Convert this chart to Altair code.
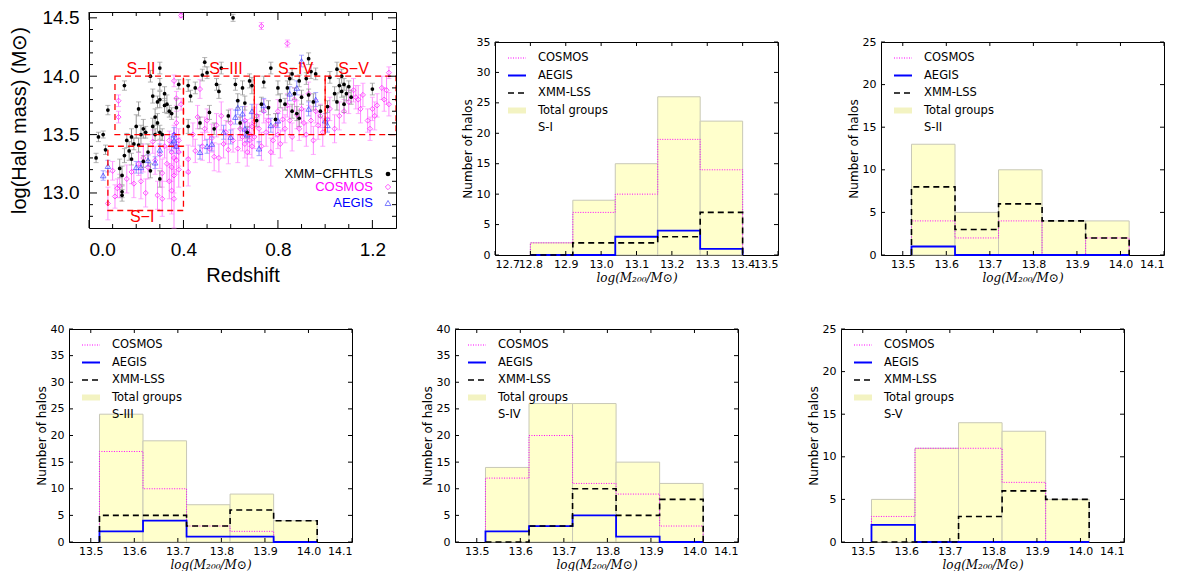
import altair as alt
import pandas as pd

# ---------------- scatter data: (redshift, log halo mass, error) ----------------
xmm_cfhtls = [
    (0.03, 13.30, 0.04), (0.04, 13.48, 0.04), (0.06, 13.50, 0.03), (0.07, 13.37, 0.04), (0.08, 13.71, 0.04),
    (0.13, 13.21, 0.08), (0.14, 12.98, 0.05), (0.14, 13.15, 0.08), (0.14, 13.01, 0.05), (0.15, 13.32, 0.06),
    (0.15, 13.92, 0.04), (0.16, 13.45, 0.06), (0.17, 13.36, 0.08), (0.18, 13.48, 0.07), (0.18, 13.29, 0.05),
    (0.19, 13.42, 0.05), (0.20, 13.57, 0.10), (0.21, 13.72, 0.06), (0.21, 13.41, 0.06), (0.22, 13.50, 0.08),
    (0.23, 13.27, 0.05), (0.23, 13.55, 0.08), (0.24, 13.52, 0.05), (0.25, 13.35, 0.07), (0.26, 13.19, 0.06),
    (0.27, 13.57, 0.07), (0.27, 13.83, 0.06), (0.26, 14.00, 0.05), (0.28, 13.65, 0.07), (0.28, 13.50, 0.05),
    (0.29, 13.60, 0.08), (0.29, 13.78, 0.05), (0.30, 13.52, 0.06), (0.30, 13.80, 0.07), (0.30, 14.07, 0.05),
    (0.30, 13.93, 0.05), (0.30, 13.12, 0.07), (0.31, 13.50, 0.05), (0.32, 13.85, 0.06), (0.32, 13.75, 0.06),
    (0.33, 13.76, 0.08), (0.34, 13.70, 0.05), (0.35, 13.68, 0.05), (0.37, 13.73, 0.08), (0.38, 13.93, 0.04),
    (0.42, 13.92, 0.05), (0.42, 13.57, 0.06), (0.43, 13.83, 0.05), (0.45, 13.90, 0.05), (0.47, 13.60, 0.05),
    (0.48, 14.01, 0.05), (0.49, 14.12, 0.04), (0.50, 14.03, 0.05), (0.51, 13.69, 0.06), (0.53, 13.55, 0.05),
    (0.54, 13.93, 0.05), (0.55, 13.87, 0.06), (0.56, 14.07, 0.05), (0.59, 13.66, 0.05), (0.61, 14.50, 0.03),
    (0.62, 13.93, 0.05), (0.63, 13.79, 0.06), (0.64, 13.60, 0.05), (0.65, 13.90, 0.06), (0.66, 13.77, 0.06),
    (0.67, 13.52, 0.05), (0.68, 13.96, 0.06), (0.69, 13.92, 0.07),
    (0.71, 13.62, 0.05), (0.73, 13.76, 0.06), (0.74, 13.95, 0.05), (0.76, 13.73, 0.06), (0.77, 14.07, 0.05),
    (0.79, 13.63, 0.05), (0.80, 13.90, 0.06), (0.81, 13.79, 0.06), (0.83, 13.76, 0.05), (0.84, 13.90, 0.06),
    (0.85, 13.98, 0.05), (0.86, 14.02, 0.05), (0.86, 13.70, 0.06), (0.87, 13.85, 0.05), (0.88, 13.68, 0.06),
    (0.89, 13.96, 0.05), (0.89, 13.64, 0.07), (0.90, 13.82, 0.06), (0.92, 13.98, 0.05), (0.93, 14.15, 0.05),
    (0.93, 13.84, 0.05), (0.94, 14.04, 0.06), (0.95, 13.78, 0.07), (0.96, 14.02, 0.05), (0.98, 13.70, 0.05),
    (1.01, 13.74, 0.05), (1.02, 13.99, 0.05), (1.04, 13.85, 0.06), (1.05, 14.06, 0.06), (1.05, 13.78, 0.07),
    (1.06, 13.92, 0.06), (1.07, 13.87, 0.05), (1.07, 14.00, 0.06), (1.08, 13.76, 0.07), (1.08, 13.93, 0.05),
    (1.09, 13.85, 0.06), (1.10, 13.91, 0.05), (1.11, 13.82, 0.06), (1.20, 13.89, 0.05),
]

cosmos_pts = [
    (0.08, 12.91, 0.14), (0.10, 13.19, 0.08), (0.11, 12.97, 0.10), (0.12, 13.04, 0.08), (0.125, 13.79, 0.05),
    (0.125, 13.65, 0.05), (0.13, 13.06, 0.10), (0.16, 13.12, 0.12), (0.18, 13.18, 0.10), (0.19, 13.08, 0.12),
    (0.21, 13.25, 0.10), (0.22, 13.10, 0.15), (0.23, 13.30, 0.12), (0.24, 13.00, 0.12), (0.25, 13.22, 0.10),
    (0.27, 13.44, 0.10), (0.28, 13.28, 0.12), (0.29, 12.98, 0.12), (0.30, 13.33, 0.12), (0.31, 13.17, 0.12),
    (0.31, 12.95, 0.15), (0.32, 13.40, 0.10), (0.33, 13.25, 0.15), (0.34, 13.10, 0.15), (0.34, 13.45, 0.08),
    (0.35, 13.35, 0.10), (0.35, 13.22, 0.12), (0.35, 13.02, 0.20), (0.36, 13.50, 0.08), (0.36, 13.30, 0.12),
    (0.36, 13.15, 0.15), (0.36, 12.95, 0.25), (0.36, 13.96, 0.05), (0.37, 13.40, 0.10), (0.37, 13.28, 0.12),
    (0.37, 13.60, 0.10), (0.37, 13.81, 0.06), (0.38, 13.45, 0.10), (0.38, 13.20, 0.15), (0.38, 13.35, 0.12),
    (0.39, 14.52, 0.02), (0.39, 13.76, 0.05),
    (0.42, 13.18, 0.12), (0.42, 13.29, 0.12), (0.44, 13.50, 0.10), (0.45, 13.36, 0.10), (0.46, 13.65, 0.10),
    (0.47, 13.89, 0.08), (0.48, 13.40, 0.12), (0.49, 13.55, 0.10), (0.50, 13.62, 0.10), (0.51, 13.38, 0.12),
    (0.52, 13.47, 0.12), (0.53, 13.31, 0.12), (0.54, 13.58, 0.10), (0.55, 13.30, 0.12), (0.56, 13.66, 0.12),
    (0.57, 13.42, 0.12), (0.58, 13.52, 0.10), (0.59, 13.37, 0.12), (0.60, 13.60, 0.12), (0.61, 13.45, 0.10),
    (0.63, 13.38, 0.12), (0.64, 13.55, 0.10), (0.65, 13.48, 0.12), (0.66, 13.62, 0.12), (0.66, 13.42, 0.12),
    (0.67, 13.53, 0.10), (0.67, 13.35, 0.12), (0.68, 13.50, 0.10), (0.68, 13.45, 0.12), (0.69, 13.57, 0.12),
    (0.69, 13.40, 0.10), (0.70, 13.61, 0.12), (0.70, 13.48, 0.10),
    (0.71, 13.66, 0.10), (0.72, 13.55, 0.12), (0.73, 14.43, 0.03), (0.73, 13.40, 0.12), (0.74, 13.70, 0.10),
    (0.75, 13.52, 0.12), (0.76, 13.62, 0.12), (0.77, 13.35, 0.12), (0.78, 13.45, 0.12), (0.79, 13.58, 0.10),
    (0.80, 13.50, 0.12), (0.80, 13.70, 0.10), (0.81, 13.42, 0.12), (0.82, 13.63, 0.10), (0.83, 13.55, 0.12),
    (0.84, 14.28, 0.03), (0.84, 13.75, 0.10), (0.85, 13.62, 0.12), (0.86, 13.48, 0.12), (0.87, 13.80, 0.10),
    (0.88, 13.67, 0.12), (0.89, 13.55, 0.10), (0.90, 13.72, 0.12), (0.91, 13.60, 0.12), (0.92, 13.50, 0.10),
    (0.93, 13.85, 0.10), (0.94, 13.62, 0.12), (0.95, 13.45, 0.12), (0.96, 13.70, 0.10), (0.97, 13.58, 0.12),
    (0.98, 13.66, 0.10), (0.99, 13.52, 0.12),
    (1.01, 13.63, 0.10), (1.02, 13.72, 0.10), (1.04, 13.55, 0.12), (1.06, 13.66, 0.12), (1.08, 13.70, 0.10),
    (1.10, 13.78, 0.10), (1.12, 13.88, 0.10), (1.13, 13.82, 0.10), (1.14, 13.80, 0.12), (1.15, 13.72, 0.12),
    (1.16, 13.84, 0.10), (1.18, 13.62, 0.10), (1.19, 13.55, 0.10), (1.20, 13.72, 0.10), (1.21, 13.66, 0.12),
    (1.22, 13.75, 0.10), (1.24, 13.90, 0.10), (1.25, 13.80, 0.10), (1.26, 13.88, 0.12), (1.27, 14.03, 0.05),
    (1.27, 13.76, 0.10),
]

aegis_pts = [
    (0.06, 13.15, 0.04), (0.08, 13.23, 0.05), (0.20, 13.22, 0.05), (0.22, 13.22, 0.05), (0.25, 13.28, 0.05),
    (0.28, 13.26, 0.05), (0.30, 13.37, 0.05), (0.35, 13.42, 0.06), (0.36, 13.50, 0.06), (0.36, 13.45, 0.06),
    (0.37, 13.40, 0.06), (0.47, 13.35, 0.06), (0.50, 13.40, 0.06), (0.52, 13.42, 0.06), (0.57, 13.52, 0.06),
    (0.60, 13.48, 0.06), (0.62, 13.65, 0.06), (0.63, 13.73, 0.06), (0.65, 13.68, 0.06), (0.66, 13.55, 0.06),
    (0.67, 13.50, 0.06), (0.69, 13.70, 0.06), (0.72, 13.38, 0.06), (0.74, 13.75, 0.06), (0.77, 13.58, 0.06),
    (0.80, 13.62, 0.06), (0.85, 13.85, 0.06), (0.88, 13.90, 0.06), (0.90, 14.13, 0.05), (0.93, 13.72, 0.06),
    (0.96, 13.80, 0.06), (1.00, 13.62, 0.06), (1.01, 13.58, 0.06),
]

# selection boxes in the scatter panel
box_names = ["S−I", "S−II", "S−III", "S−IV", "S−V"]
box_z_lo = [0.08, 0.11, 0.40, 0.70, 1.00]
box_z_hi = [0.40, 0.40, 0.70, 1.00, 1.30]
box_m_lo = [12.85, 13.50, 13.50, 13.50, 13.50]
box_m_hi = [13.40, 14.00, 14.00, 14.00, 14.00]
box_label_z = [0.225, 0.22, 0.58, 0.875, 1.12]
box_label_m = [12.79, 14.065, 14.065, 14.065, 14.065]

sc_x_major = [0.0, 0.4, 0.8, 1.2]
sc_x_minor = [0.1, 0.2, 0.3, 0.5, 0.6, 0.7, 0.9, 1.0, 1.1]
sc_y_major = [13.0, 13.5, 14.0, 14.5]
sc_y_minor = [12.8, 12.9, 13.1, 13.2, 13.3, 13.4, 13.6, 13.7, 13.8, 13.9, 14.1, 14.2, 14.3, 14.4]

# ---------------- histogram data ----------------
edges_S1 = [12.80, 12.92, 13.04, 13.16, 13.28, 13.40]
edges_hi = [13.52, 13.62, 13.72, 13.82, 13.92, 14.02]
ticks_S1 = [12.7, 12.8, 12.9, 13.0, 13.1, 13.2, 13.3, 13.4, 13.5]
ticks_hi = [13.5, 13.6, 13.7, 13.8, 13.9, 14.0, 14.1]

S1_total, S1_cosmos, S1_aegis, S1_xmm = [2, 9, 15, 26, 22], [2, 7, 10, 19, 14], [0, 0, 3, 4, 1], [0, 2, 2, 3, 7]
S2_total, S2_cosmos, S2_aegis, S2_xmm = [13, 5, 10, 4, 4], [4, 2, 4, 0, 2], [1, 0, 0, 0, 0], [8, 3, 6, 4, 2]
S3_total, S3_cosmos, S3_aegis, S3_xmm = [24, 19, 7, 9, 4], [17, 10, 3, 2, 0], [2, 4, 1, 1, 0], [5, 5, 3, 6, 4]
S4_total, S4_cosmos, S4_aegis, S4_xmm = [14, 26, 26, 15, 11], [12, 20, 11, 9, 3], [2, 3, 5, 1, 0], [0, 3, 10, 5, 8]
S5_total, S5_cosmos, S5_aegis, S5_xmm = [5, 11, 14, 13, 5], [3, 11, 11, 7, 0], [2, 0, 0, 0, 0], [0, 0, 3, 6, 5]

HFONT = "DejaVu Sans"
SFONT = "Liberation Sans"
ONE = [{"k": 0}]


def inward_ticks(values, xs, ys, ax, ay, channel, W, H, L):
    df = pd.DataFrame({"v": values})
    base = alt.Chart(df).mark_rule(color="black", strokeWidth=1)
    if channel == "x":
        enc = alt.X("v:Q", scale=xs, axis=ax)
        return [base.encode(x=enc, y=alt.value(H), y2=alt.value(H - L)),
                base.encode(x=enc, y=alt.value(0), y2=alt.value(L))]
    enc = alt.Y("v:Q", scale=ys, axis=ay)
    return [base.encode(y=enc, x=alt.value(0), x2=alt.value(L)),
            base.encode(y=enc, x=alt.value(W), x2=alt.value(W - L))]


def step_rows(edges, counts):
    pts = [(edges[0], 0)]
    for i, c in enumerate(counts):
        pts.append((edges[i], c))
        pts.append((edges[i + 1], c))
    pts.append((edges[-1], 0))
    return pd.DataFrame({"i": list(range(len(pts))), "x": [p[0] for p in pts], "y": [p[1] for p in pts]})


def hist_panel(tag, edges, total, cosmos, aegis, xmm, ymax, xdom, xticks):
    W, H = 283, 213
    xs = alt.Scale(domain=xdom, nice=False, zero=False)
    ys = alt.Scale(domain=[0, ymax], nice=False)
    yticks = list(range(0, ymax + 1, 5))
    ax = alt.Axis(values=xticks, format=".1f", title="log(M₂₀₀/M⊙)", labelPadding=3, titlePadding=1,
                  minExtent=16, maxExtent=16, titleFont="DejaVu Serif", titleFontStyle="italic", titleFontSize=12,
                  labelOverlap=False)
    ay = alt.Axis(values=yticks, title="Number of halos", labelPadding=5, titlePadding=2,
                  minExtent=19, maxExtent=19, labelOverlap=False)
    bars_df = pd.DataFrame({"lo": edges[:-1], "hi": edges[1:], "n": total, "z": [0] * len(total)})
    bars = alt.Chart(bars_df).mark_rect(fill="#ffffcc", stroke="#c8c8b6", strokeWidth=1).encode(
        x=alt.X("lo:Q", scale=xs, axis=ax), x2="hi:Q",
        y=alt.Y("n:Q", scale=ys, axis=ay), y2="z:Q",
    )
    layers = [bars]
    styles = [
        ("COSMOS", cosmos, "#ff00ff", [1, 1.5], 1.0),
        ("AEGIS", aegis, "#0000ff", None, 1.8),
        ("XMM-LSS", xmm, "black", [6, 4], 1.6),
    ]
    for name, counts, col, dash, w in styles:
        kw = dict(color=col, strokeWidth=w)
        if dash:
            kw["strokeDash"] = dash
        layers.append(alt.Chart(step_rows(edges, counts)).mark_line(**kw).encode(
            x=alt.X("x:Q", scale=xs, axis=ax), y=alt.Y("y:Q", scale=ys, axis=ay), order="i:Q"))
    layers += inward_ticks(xticks, xs, ys, ax, ay, "x", W, H, 4)
    layers += inward_ticks(yticks, xs, ys, ax, ay, "y", W, H, 4)
    legend = [(s[0], s[2], s[3], 2.0 if s[0] == "AEGIS" else s[4]) for s in styles]
    legend.append(("Total groups", "#f3f3c2", None, 6))
    for i, (lab, col, dash, w) in enumerate(legend):
        yy = 16 + 17.5 * i
        kw = dict(color=col, strokeWidth=w)
        if dash:
            kw["strokeDash"] = dash
        layers.append(alt.Chart(alt.Data(values=ONE)).mark_rule(**kw).encode(
            x=alt.value(13), x2=alt.value(31), y=alt.value(yy)))
        layers.append(alt.Chart(alt.Data(values=ONE)).mark_text(
            text=lab, align="left", baseline="middle", fontSize=11.5, font=HFONT, color="black").encode(
            x=alt.value(43), y=alt.value(yy)))
    layers.append(alt.Chart(alt.Data(values=ONE)).mark_text(
        text=tag, align="left", baseline="middle", fontSize=11.5, font=HFONT, color="black").encode(
        x=alt.value(43), y=alt.value(16 + 17.5 * 4)))
    return alt.layer(*layers).properties(width=W, height=H)


def series_df(pts):
    return pd.DataFrame({
        "z": [p[0] for p in pts], "m": [p[1] for p in pts],
        "lo": [p[1] - p[2] for p in pts], "hi": [p[1] + p[2] for p in pts]})


def scatter_panel():
    W, H = 307, 216
    xs = alt.Scale(domain=[0.0, 1.3], nice=False, zero=False)
    ys = alt.Scale(domain=[12.7, 14.55], nice=False, zero=False)
    ax = alt.Axis(values=sc_x_major, format=".1f", title="Redshift", labelFont=SFONT, titleFont=SFONT,
                  labelFontSize=19, titleFontSize=20, labelPadding=12, minExtent=31, maxExtent=31, titlePadding=6)
    ay = alt.Axis(values=sc_y_major, format=".1f", title="log(Halo mass)  (M⊙)", labelFont=SFONT, titleFont=SFONT,
                  labelFontSize=19, titleFontSize=20, labelPadding=10, minExtent=47, maxExtent=47, titlePadding=13)
    X = lambda f: alt.X(f, scale=xs, axis=ax)
    Y = lambda f: alt.Y(f, scale=ys, axis=ay)
    layers = []
    series = [
        (cosmos_pts, "#ff8cff", dict(shape="diamond", filled=False, color="#ff00ff", size=26, strokeWidth=0.9)),
        (aegis_pts, "#8c8cff", dict(shape="triangle-up", filled=False, color="#3030ff", size=30, strokeWidth=0.9)),
        (xmm_cfhtls, "#999999", dict(shape="circle", filled=True, color="black", size=14, opacity=1)),
    ]
    for pts, ecol, pkw in series:
        df = series_df(pts)
        layers.append(alt.Chart(df).mark_rule(color=ecol, strokeWidth=1).encode(
            x=X("z:Q"), y=Y("lo:Q"), y2="hi:Q"))
        for f in ["lo:Q", "hi:Q"]:
            layers.append(alt.Chart(df).mark_tick(color=ecol, orient="horizontal", size=5, thickness=1).encode(
                x=X("z:Q"), y=Y(f)))
    for pts, ecol, pkw in series:
        layers.append(alt.Chart(series_df(pts)).mark_point(**pkw).encode(x=X("z:Q"), y=Y("m:Q")))
    boxes_df = pd.DataFrame({"z0": box_z_lo, "z1": box_z_hi, "m0": box_m_lo, "m1": box_m_hi})
    layers.append(alt.Chart(boxes_df).mark_rect(
        fill="transparent", stroke="#ff0000", strokeDash=[6, 4], strokeWidth=1.3, clip=True).encode(
        x=X("z0:Q"), x2="z1:Q", y=Y("m0:Q"), y2="m1:Q"))
    lab_df = pd.DataFrame({"name": box_names, "z": box_label_z, "m": box_label_m})
    layers.append(alt.Chart(lab_df).mark_text(color="#ff0000", fontSize=16, font=SFONT, baseline="middle").encode(
        x=X("z:Q"), y=Y("m:Q"), text="name:N"))
    layers += inward_ticks(sc_x_minor, xs, ys, ax, ay, "x", W, H, 4)
    layers += inward_ticks(sc_x_major, xs, ys, ax, ay, "x", W, H, 8)
    layers += inward_ticks(sc_y_minor, xs, ys, ax, ay, "y", W, H, 4)
    layers += inward_ticks(sc_y_major, xs, ys, ax, ay, "y", W, H, 8)
    leg = [("XMM−CFHTLS", "black", dict(shape="circle", filled=True, color="black", size=22, opacity=1), 162),
           ("COSMOS", "#ff00ff", dict(shape="diamond", filled=False, color="#ff00ff", size=30, strokeWidth=0.9), 175),
           ("AEGIS", "#0000ff", dict(shape="triangle-up", filled=False, color="#3030ff", size=34, strokeWidth=0.9), 191)]
    for lab, col, pkw, yy in leg:
        layers.append(alt.Chart(alt.Data(values=ONE)).mark_text(
            text=lab, align="right", baseline="middle", fontSize=13, font=SFONT, color=col).encode(
            x=alt.value(284), y=alt.value(yy)))
        layers.append(alt.Chart(alt.Data(values=ONE)).mark_point(**pkw).encode(
            x=alt.value(299), y=alt.value(yy)))
    return alt.layer(*layers).properties(width=W, height=H)


def spacer():
    return alt.Chart(alt.Data(values=ONE)).mark_point(opacity=0, size=0, strokeWidth=0).properties(
        width=1, height=1, view=alt.ViewBackground(stroke="transparent"))


s1 = hist_panel("S-I", edges_S1, S1_total, S1_cosmos, S1_aegis, S1_xmm, 35, [12.7, 13.5], ticks_S1)
s2 = hist_panel("S-II", edges_hi, S2_total, S2_cosmos, S2_aegis, S2_xmm, 25, [13.45, 14.1], ticks_hi)
s3 = hist_panel("S-III", edges_hi, S3_total, S3_cosmos, S3_aegis, S3_xmm, 40, [13.45, 14.1], ticks_hi)
s4 = hist_panel("S-IV", edges_hi, S4_total, S4_cosmos, S4_aegis, S4_xmm, 40, [13.45, 14.1], ticks_hi)
s5 = hist_panel("S-V", edges_hi, S5_total, S5_cosmos, S5_aegis, S5_xmm, 25, [13.45, 14.1], ticks_hi)

s12 = alt.hconcat(s1, s2, spacing=103, bounds="flush")
top_inner = alt.hconcat(scatter_panel(), alt.vconcat(spacer(), s12, spacing=21), spacing=63)
top = alt.hconcat(spacer(), top_inner, spacing=-63)
bottom = alt.hconcat(s3, s4, s5, spacing=103, bounds="flush")

chart = alt.vconcat(top, bottom, spacing=36).properties(padding=0).configure_view(
    stroke="black", strokeWidth=1
).configure_axis(
    grid=False, ticks=False, domain=False, labelColor="black", titleColor="black",
    titleFontWeight="normal", labelFont=HFONT, titleFont=HFONT, labelFontSize=11, titleFontSize=12,
)

chart.save("out.html", embed_options={"renderer": "svg", "actions": False})
